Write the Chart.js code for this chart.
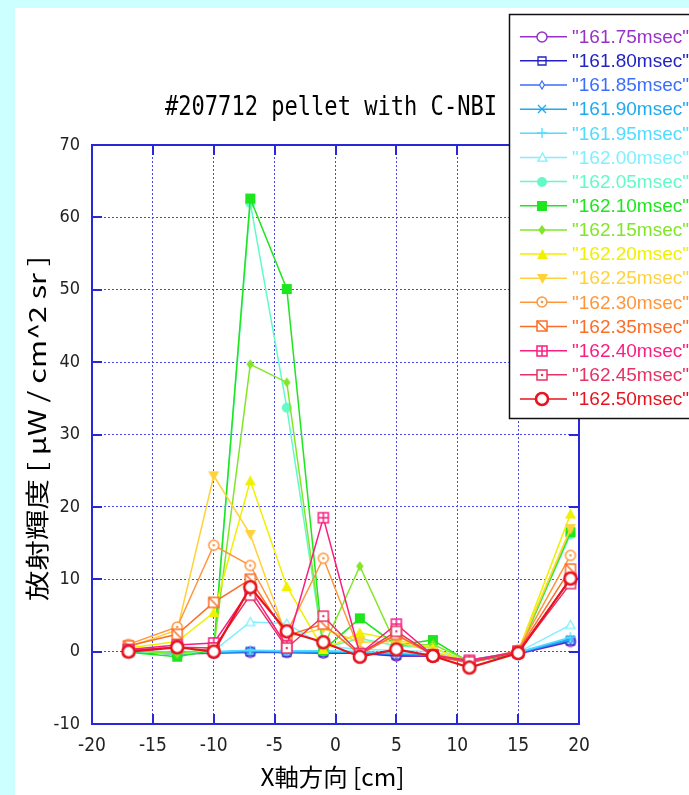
<!DOCTYPE html>
<html>
<head>
<meta charset="utf-8">
<script src="https://cdn.jsdelivr.net/npm/chart.js@4/dist/chart.umd.min.js"></script>
<style>
  html, body { margin: 0; padding: 0; background: #ccffff; }
  #panel { position: absolute; left: 15px; top: 8px; width: 674px; height: 787px; background: #ffffff; overflow: hidden; }
  canvas { display: block; }
</style>
</head>
<body>
<div id="panel"><canvas id="chart" width="674" height="787"></canvas></div>
<script>
// Chord positions along the X axis [cm]
const xPositions = [-17, -13, -10, -7, -4, -1, 2, 5, 8, 11, 15, 19.3];

// Frame times shown in the legend
const seriesLabels = [
  '"161.75msec"', '"161.80msec"', '"161.85msec"', '"161.90msec"',
  '"161.95msec"', '"162.00msec"', '"162.05msec"', '"162.10msec"',
  '"162.15msec"', '"162.20msec"', '"162.25msec"', '"162.30msec"',
  '"162.35msec"', '"162.40msec"', '"162.45msec"', '"162.50msec"'
];

// Radiance per chord [uW / cm^2 sr]
const v16175 = [0.0, -0.3, -0.2, -0.1, -0.1, -0.2, -0.2, -0.6, -0.6, -1.4, -0.3, 1.4];
const v16180 = [0.0, -0.3, -0.1, 0.0, -0.1, -0.1, -0.2, -0.5, -0.5, -1.3, -0.2, 1.5];
const v16185 = [0.1, -0.2, -0.1, 0.0, 0.0, -0.1, -0.1, -0.4, -0.5, -1.3, -0.2, 1.6];
const v16190 = [0.1, -0.2, -0.1, 0.1, 0.0, 0.0, -0.1, -0.3, -0.4, -1.2, -0.1, 1.7];
const v16195 = [0.2, -0.1, 0.0, 0.2, 0.1, 0.1, 0.0, -0.2, -0.3, -1.2, -0.1, 2.0];
const v16200 = [0.1, -0.3, 0.1, 4.1, 3.9, 0.8, 0.3, 0.2, 0.0, -1.3, -0.1, 3.7];
const v16205 = [0.1, -0.4, 0.1, 62.0, 33.7, 0.5, 1.8, 0.8, 0.5, -1.4, -0.1, 16.2];
const v16210 = [-0.1, -0.7, 0.2, 62.6, 50.1, 0.2, 4.6, 0.9, 1.6, -1.5, -0.2, 16.5];
const v16215 = [0.2, -0.3, 0.5, 39.7, 37.2, 0.6, 11.8, 0.8, 1.0, -1.3, -0.1, 16.8];
const v16220 = [0.5, 1.4, 5.4, 23.6, 9.0, 0.3, 2.6, 1.6, 0.5, -1.5, 0.0, 19.0];
const v16225 = [0.6, 3.0, 24.3, 16.2, 2.0, 3.2, 1.3, 1.4, 0.0, -1.5, 0.1, 17.0];
const v16230 = [1.0, 3.4, 14.7, 11.9, 2.6, 12.9, 0.0, 2.2, -0.3, -1.5, 0.2, 13.3];
const v16235 = [0.8, 2.4, 6.8, 10.0, 2.2, 3.8, -0.4, 2.4, -0.5, -1.6, 0.1, 11.4];
const v16240 = [0.3, 0.9, 1.2, 8.6, 0.8, 18.5, -0.3, 3.8, -0.5, -1.2, 0.0, 10.0];
const v16245 = [0.2, 0.6, 0.5, 7.8, 0.5, 4.9, -0.3, 2.8, -0.5, -1.4, -0.1, 9.4];
const v16250 = [0.0, 0.6, 0.0, 8.9, 2.8, 1.3, -0.7, 0.3, -0.6, -2.2, -0.2, 10.1];

const seriesValues = [v16175, v16180, v16185, v16190, v16195, v16200, v16205, v16210,
                      v16215, v16220, v16225, v16230, v16235, v16240, v16245, v16250];

// Axis ticks
const xTicks = [-20, -15, -10, -5, 0, 5, 10, 15, 20];
const yTicks = [-10, 0, 10, 20, 30, 40, 50, 60, 70];

const titleText = '#207712 pellet with C-NBI';
const xTitle = 'X軸方向 [cm]';
const yTitle = '放射輝度 [ μW / cm^2 sr ]';

// Line colour and point symbol of each series
const seriesStyles = [
  { color: '#9632c8', mark: 'circle',     size: 10, lw: 1.5, line: 2.0 },
  { color: '#2323c3', mark: 'square',     size: 8,  lw: 1.3, line: 2.0 },
  { color: '#3c6efa', mark: 'diamond',    size: 8,  lw: 1.2, line: 2.0 },
  { color: '#1eaaf0', mark: 'xcross',     size: 8,  lw: 1.3, line: 2.0 },
  { color: '#50dcff', mark: 'plus',       size: 10, lw: 1.3, line: 1.6 },
  { color: '#80f0ff', mark: 'triangle',   size: 9,  lw: 1.3, line: 1.5 },
  { color: '#64fac8', mark: 'fcircle',    size: 10, lw: 1,   line: 1.5 },
  { color: '#1ee61e', mark: 'fsquare',    size: 10, lw: 1,   line: 1.5 },
  { color: '#82e628', mark: 'fdiamond',   size: 10, lw: 1,   line: 1.5 },
  { color: '#f0f000', mark: 'ftriangle',  size: 11, lw: 1,   line: 1.5 },
  { color: '#ffd23c', mark: 'fdtriangle', size: 11, lw: 1,   line: 1.5 },
  { color: '#ff963c', mark: 'circledot',  size: 10, lw: 1.5, line: 1.5 },
  { color: '#fa6e28', mark: 'squarediag', size: 10, lw: 1.5, line: 1.5 },
  { color: '#fa1e82', mark: 'squareplus', size: 10, lw: 1.5, line: 1.5 },
  { color: '#e63264', mark: 'squaredot',  size: 10, lw: 1.5, line: 1.5 },
  { color: '#e6141e', mark: 'circle',     size: 12, lw: 2.6, line: 2.2 }
];

const AXIS_COLOR = '#2828d8';
const GRID_COLOR = '#4646f0';
const TICK_LEN = 10;
const NARROW = '"Liberation Sans Narrow", "DejaVu Sans Condensed", "Liberation Sans", sans-serif';

// Draw one point symbol into a small canvas used as a Chart.js pointStyle
function makeMarker(st) {
  const S = Math.ceil(st.size + 6);
  const cv = document.createElement('canvas');
  cv.width = S; cv.height = S;
  const g = cv.getContext('2d');
  const c = S / 2, r = st.size / 2;
  g.strokeStyle = st.color; g.fillStyle = st.color; g.lineWidth = st.lw;
  const circle = () => { g.beginPath(); g.arc(c, c, r, 0, Math.PI * 2); };
  const square = () => { g.beginPath(); g.rect(c - r, c - r, 2 * r, 2 * r); };
  const diamond = (k) => { g.beginPath(); g.moveTo(c, c - r); g.lineTo(c + r * k, c); g.lineTo(c, c + r); g.lineTo(c - r * k, c); g.closePath(); };
  const tri = () => { g.beginPath(); g.moveTo(c, c - r); g.lineTo(c + r, c + r * 0.8); g.lineTo(c - r, c + r * 0.8); g.closePath(); };
  const dtri = () => { g.beginPath(); g.moveTo(c, c + r); g.lineTo(c + r, c - r * 0.8); g.lineTo(c - r, c - r * 0.8); g.closePath(); };
  const whiteFillStroke = () => { g.fillStyle = '#fff'; g.fill(); g.stroke(); g.fillStyle = st.color; };
  switch (st.mark) {
    case 'circle': circle(); whiteFillStroke(); break;
    case 'square': square(); g.stroke(); break;
    case 'diamond': diamond(0.6); whiteFillStroke(); break;
    case 'xcross':
      g.beginPath(); g.moveTo(c - r, c - r); g.lineTo(c + r, c + r); g.moveTo(c + r, c - r); g.lineTo(c - r, c + r); g.stroke(); break;
    case 'plus':
      g.beginPath(); g.moveTo(c, c - r); g.lineTo(c, c + r); g.moveTo(c - r, c); g.lineTo(c + r, c); g.stroke(); break;
    case 'triangle': tri(); whiteFillStroke(); break;
    case 'fcircle': circle(); g.fill(); break;
    case 'fsquare': square(); g.fill(); break;
    case 'fdiamond': diamond(0.75); g.fill(); break;
    case 'ftriangle': tri(); g.fill(); break;
    case 'fdtriangle': dtri(); g.fill(); break;
    case 'circledot':
      circle(); whiteFillStroke();
      g.beginPath(); g.arc(c, c, 1.3, 0, Math.PI * 2); g.fill(); break;
    case 'squarediag':
      square(); whiteFillStroke();
      g.beginPath(); g.moveTo(c - r, c - r); g.lineTo(c + r, c + r); g.stroke(); break;
    case 'squareplus':
      square(); whiteFillStroke();
      g.beginPath(); g.moveTo(c, c - r); g.lineTo(c, c + r); g.moveTo(c - r, c); g.lineTo(c + r, c); g.stroke(); break;
    case 'squaredot':
      square(); whiteFillStroke();
      g.beginPath(); g.arc(c, c, 1.2, 0, Math.PI * 2); g.fill(); break;
  }
  return cv;
}

const markers = seriesStyles.map(makeMarker);
const N = seriesLabels.length;

const datasets = seriesValues.map((vals, i) => ({
  label: seriesLabels[i],
  data: xPositions.map((x, k) => ({ x: x, y: vals[k] })),
  showLine: true,
  borderColor: seriesStyles[i].color,
  backgroundColor: seriesStyles[i].color,
  borderWidth: seriesStyles[i].line,
  pointStyle: markers[i],
  pointRadius: 5,
  order: N - i            // later frames are drawn on top
}));

// Stretch text horizontally so it spans the given width
function fitText(ctx, text, cx, cy, font, width, rotate) {
  ctx.save();
  ctx.font = font;
  const w = ctx.measureText(text).width;
  ctx.translate(cx, cy);
  if (rotate) ctx.rotate(rotate);
  ctx.scale(width / w, 1);
  ctx.textAlign = 'center';
  ctx.textBaseline = 'middle';
  ctx.fillText(text, 0, 0);
  ctx.restore();
}

const decor = {
  id: 'decor',
  beforeDatasetsDraw(chart) {
    const { ctx, chartArea: a, scales: { x, y } } = chart;
    ctx.save();
    ctx.strokeStyle = AXIS_COLOR;
    ctx.lineWidth = 2;
    ctx.beginPath();
    xTicks.forEach(v => {
      const px = Math.round(x.getPixelForValue(v));
      ctx.moveTo(px, a.bottom); ctx.lineTo(px, a.bottom - TICK_LEN);
      ctx.moveTo(px, a.top); ctx.lineTo(px, a.top + TICK_LEN);
    });
    yTicks.forEach(v => {
      const py = Math.round(y.getPixelForValue(v));
      ctx.moveTo(a.left, py); ctx.lineTo(a.left + TICK_LEN, py);
      ctx.moveTo(a.right, py); ctx.lineTo(a.right - TICK_LEN, py);
    });
    ctx.stroke();
    ctx.strokeRect(a.left, a.top, a.right - a.left, a.bottom - a.top);
    ctx.restore();
  },
  afterDraw(chart) {
    const { ctx, chartArea: a } = chart;
    ctx.save();
    ctx.fillStyle = '#000';
    // chart title
    fitText(ctx, titleText, 316, 100, '26px "DejaVu Sans Mono", monospace', 332);
    // axis titles
    fitText(ctx, xTitle, (a.left + a.right) / 2 - 3, 769, '24px "Noto Sans CJK JP", sans-serif', 144);
    fitText(ctx, yTitle, 22, (a.top + a.bottom) / 2 - 6, '24px "Noto Sans CJK JP", sans-serif', 345, -Math.PI / 2);

    // legend box
    const bx = 494.5, by = 6.5, bh = 404;
    ctx.fillStyle = '#fff';
    ctx.fillRect(bx, by, 200, bh);
    ctx.strokeStyle = '#111';
    ctx.lineWidth = 1.5;
    ctx.strokeRect(bx, by, 200, bh);
    const rowH = 24.15;
    for (let i = 0; i < N; i++) {
      const yy = 28.7 + rowH * i;
      const st = seriesStyles[i];
      ctx.strokeStyle = st.color;
      ctx.lineWidth = 1.5;
      ctx.beginPath(); ctx.moveTo(505, yy); ctx.lineTo(552, yy); ctx.stroke();
      const m = markers[i];
      ctx.drawImage(m, Math.round(527 - m.width / 2), Math.round(yy - m.height / 2));
      ctx.fillStyle = st.color;
      ctx.font = '19px "Liberation Sans", Arial, sans-serif';
      ctx.textAlign = 'left';
      ctx.textBaseline = 'middle';
      ctx.fillText(seriesLabels[i], 557, yy + 1);
    }
    ctx.restore();
  }
};

new Chart(document.getElementById('chart'), {
  type: 'scatter',
  data: { datasets },
  plugins: [decor],
  options: {
    responsive: false,
    animation: false,
    devicePixelRatio: 1,
    events: [],
    layout: { padding: { top: 137, right: 110, left: 0, bottom: 0 } },
    plugins: {
      legend: { display: false },
      title: { display: false },
      tooltip: { enabled: false }
    },
    scales: {
      x: {
        type: 'linear',
        min: -20, max: 20,
        afterBuildTicks: s => { s.ticks = xTicks.map(v => ({ value: v })); },
        afterFit: s => { s.height = 71; },
        ticks: { color: '#222', padding: 11, font: { family: NARROW, size: 19 } },
        grid: { color: GRID_COLOR, lineWidth: 1, drawTicks: false },
        border: { display: false, dash: [2, 2] }
      },
      y: {
        type: 'linear',
        min: -10, max: 70,
        afterBuildTicks: s => { s.ticks = yTicks.map(v => ({ value: v })); },
        afterFit: s => { s.width = 77; },
        ticks: { color: '#222', padding: 12, font: { family: NARROW, size: 18 } },
        grid: { color: GRID_COLOR, lineWidth: 1, drawTicks: false },
        border: { display: false, dash: [2, 2] }
      }
    }
  }
});
</script>
</body>
</html>
